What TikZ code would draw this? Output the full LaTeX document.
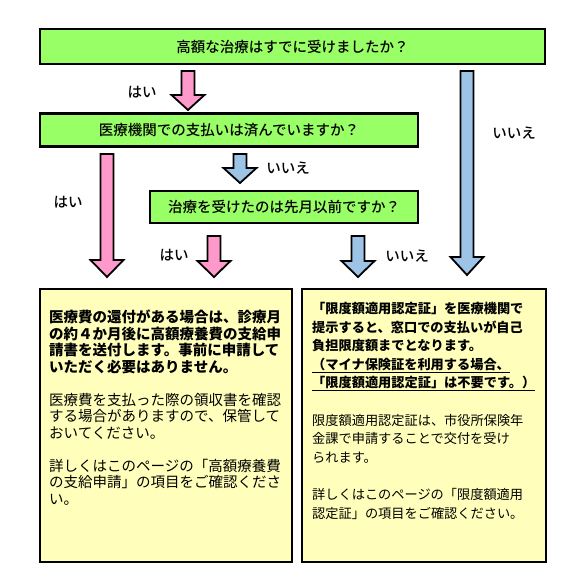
\documentclass[tikz,border=0pt]{standalone}
\usepackage{fontspec}
\setmainfont{Noto Sans CJK JP}
\newfontfamily\medfont{Noto Sans CJK JP Medium}
\definecolor{qgreen}{RGB}{153,255,102}
\definecolor{apink}{RGB}{255,153,204}
\definecolor{ablue}{RGB}{157,195,230}
\definecolor{byellow}{RGB}{255,255,187}
\tikzset{
  qbox/.style={draw=black, line width=2.6pt, fill=qgreen, inner sep=0pt, font=\medfont\fontsize{14.5}{16}\selectfont},
  abox/.style={draw=black, line width=2.6pt, fill=byellow, inner sep=0pt},
  lbl/.style={inner sep=0pt, font=\medfont\fontsize{14.5}{16}\selectfont},
  arrowshape/.style={draw=black, line width=1.8pt, line join=miter},
  bodytext/.style={inner sep=0pt, anchor=north west, align=left}
}
\newcommand\blkarrow[5]{%
  \draw[arrowshape, fill=#1] ({#2-6.5},#3) -- ({#2+6.5},#3) -- ({#2+6.5},#4) -- ({#2+16.5},#4) -- (#2,#5) -- ({#2-16.5},#4) -- ({#2-6.5},#4) -- cycle;}
\begin{document}
\begin{tikzpicture}[x=1pt,y=-1pt]
\useasboundingbox[fill=white] (0,0) rectangle (580,588);
% question boxes
\node[qbox, minimum width=505pt, minimum height=35pt] (q1) at (292.5,46.5) {高額な治療はすでに受けましたか？};
\node[qbox, minimum width=378pt, minimum height=33pt] (q2) at (229,130) {医療機関での支払いは済んでいますか？};
\node[qbox, minimum width=268pt, minimum height=32pt] (q3) at (284,207) {治療を受けたのは先月以前ですか？};
% answer boxes
\node[abox, minimum width=252pt, minimum height=273pt] (a1) at (166,425.5) {};
\node[abox, minimum width=244pt, minimum height=273pt] (a2) at (424,425.5) {};
% arrows
\blkarrow{apink}{188}{71}{95}{110}
\blkarrow{ablue}{467}{71}{257}{275}
\blkarrow{apink}{107}{154}{260}{277}
\blkarrow{ablue}{240}{154}{168}{183}
\blkarrow{apink}{214}{236}{261}{277}
\blkarrow{ablue}{358}{236}{261}{277}
% labels
\node[lbl] (l1) at (142,92) {はい};
\node[lbl] (l2) at (514,133) {いいえ};
\node[lbl] (l3) at (68,202) {はい};
\node[lbl] (l4) at (288,168) {いいえ};
\node[lbl] (l5) at (174,255) {はい};
\node[lbl] (l6) at (407,256) {いいえ};
% left body text
\node[bodytext, font=\fontsize{14.5}{16.5}\selectfont] (t1) at (49,310) {%
\textbf{医療費の還付がある場合は、診療月}\\
\textbf{の約４か月後に高額療養費の支給申}\\
\textbf{請書を送付します。事前に申請して}\\
\textbf{いただく必要はありません。}\\
\mbox{}\\
医療費を支払った際の領収書を確認\\
する場合がありますので、保管して\\
おいてください。\\
\mbox{}\\
詳しくはこのページの「高額療養費\\
の支給申請」の項目をご確認くださ\\
い。};
% right body text
\node[bodytext, font=\fontsize{13.2}{18.6}\selectfont] (t2) at (312,302) {%
\textbf{「限度額適用認定証」を医療機関で}\\
\textbf{提示すると、窓口での支払いが自己}\\
\textbf{負担限度額までとなります。}\\
\textbf{\underline{（マイナ保険証を利用する場合、}}\\
\textbf{\underline{「限度額適用認定証」は不要です。）}}\\
\mbox{}\\
限度額適用認定証は、市役所保険年\\
金課で申請することで交付を受け\\
られます。\\
\mbox{}\\
詳しくはこのページの「限度額適用\\
認定証」の項目をご確認ください。};
\end{tikzpicture}
\end{document}
